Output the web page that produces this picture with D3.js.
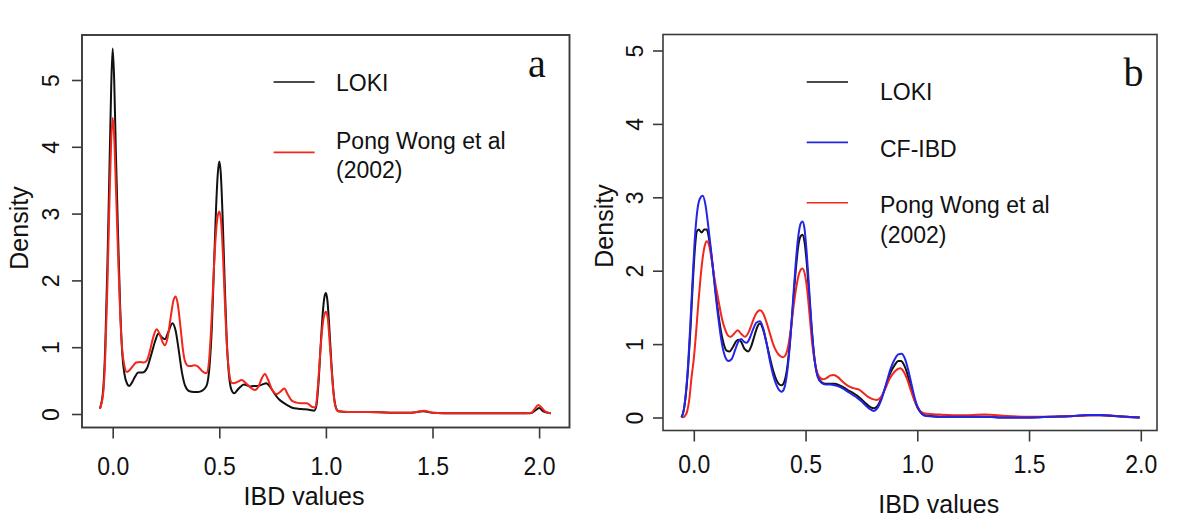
<!DOCTYPE html>
<html><head><meta charset="utf-8">
<script src="https://cdn.jsdelivr.net/npm/d3@7"></script>
<style>
body{margin:0;background:#fff}
svg{display:block}
text{font-family:"Liberation Sans",Arial,Helvetica,sans-serif;fill:#111}
</style>
</head><body>
<svg id="chart" width="1200" height="527"></svg>
<script>
// ---------------- DATA ----------------
const xTickValues = [0, 0.5, 1, 1.5, 2];
const yTickValues = [0, 1, 2, 3, 4, 5];
const panelLetters = ["a", "b"];
const xTitle = "IBD values";
const yTitle = "Density";
const legendA = ["LOKI", "Pong Wong et al|(2002)"];
const legendB = ["LOKI", "CF-IBD", "Pong Wong et al|(2002)"];

// Panel a : LOKI density  [IBD value, density]
const aLoki = [
[-0.060,0.08],[-0.045,0.35],[-0.035,1.0],[-0.025,2.2],[-0.015,3.7],[-0.007,4.9],[0.000,5.47],
[0.007,5.0],[0.015,3.9],[0.025,2.7],[0.035,1.6],[0.045,0.9],[0.055,0.6],[0.068,0.45],[0.078,0.42],
[0.09,0.47],[0.105,0.56],[0.12,0.62],[0.14,0.62],[0.16,0.68],[0.18,0.88],[0.20,1.10],[0.214,1.20],
[0.23,1.15],[0.245,1.12],[0.26,1.22],[0.28,1.36],[0.295,1.25],[0.31,0.95],[0.325,0.62],[0.34,0.42],
[0.36,0.34],[0.38,0.33],[0.40,0.33],[0.42,0.35],[0.44,0.42],[0.455,0.75],[0.465,1.3],[0.475,2.2],
[0.485,3.1],[0.493,3.6],[0.500,3.78],[0.507,3.6],[0.515,3.0],[0.525,2.0],[0.535,1.1],[0.545,0.6],
[0.557,0.36],[0.57,0.31],[0.585,0.36],[0.60,0.41],[0.615,0.44],[0.63,0.43],[0.645,0.41],[0.66,0.42],
[0.68,0.42],[0.70,0.44],[0.72,0.46],[0.74,0.40],[0.76,0.30],[0.78,0.22],[0.80,0.17],[0.82,0.13],
[0.845,0.09],[0.87,0.08],[0.90,0.07],[0.925,0.06],[0.945,0.05],[0.955,0.12],[0.965,0.45],[0.975,1.0],
[0.985,1.5],[0.993,1.75],[1.000,1.81],[1.007,1.7],[1.015,1.35],[1.025,0.8],[1.035,0.35],[1.045,0.12],
[1.058,0.04],[1.10,0.03],[1.20,0.03],[1.30,0.02],[1.40,0.02],[1.457,0.04],[1.50,0.02],[1.60,0.01],
[1.70,0.01],[1.80,0.01],[1.90,0.01],[1.96,0.01],[1.985,0.06],[2.0,0.09],[2.02,0.04],[2.055,0.01]
];
// Panel a : Pong Wong et al (2002)
const aPong = [
[-0.060,0.08],[-0.045,0.3],[-0.035,0.85],[-0.025,1.9],[-0.015,3.2],[-0.007,4.1],[0.000,4.43],
[0.007,4.15],[0.015,3.4],[0.025,2.4],[0.035,1.5],[0.045,0.95],[0.055,0.72],[0.066,0.63],[0.08,0.66],
[0.095,0.72],[0.11,0.77],[0.128,0.78],[0.145,0.77],[0.16,0.80],[0.175,0.95],[0.19,1.15],[0.206,1.27],
[0.22,1.20],[0.235,1.07],[0.245,1.03],[0.258,1.15],[0.272,1.45],[0.285,1.70],[0.295,1.76],[0.305,1.65],
[0.318,1.30],[0.33,0.95],[0.34,0.78],[0.355,0.72],[0.37,0.72],[0.386,0.73],[0.40,0.71],[0.42,0.64],
[0.44,0.61],[0.452,0.80],[0.462,1.3],[0.472,2.0],[0.482,2.6],[0.492,2.95],[0.500,3.03],[0.508,2.9],
[0.517,2.4],[0.527,1.6],[0.537,0.95],[0.547,0.6],[0.557,0.47],[0.567,0.46],[0.585,0.48],[0.605,0.51],
[0.625,0.46],[0.645,0.40],[0.667,0.36],[0.685,0.42],[0.700,0.54],[0.714,0.60],[0.728,0.52],[0.745,0.38],
[0.769,0.30],[0.785,0.33],[0.805,0.38],[0.82,0.30],[0.84,0.20],[0.863,0.17],[0.885,0.16],[0.91,0.16],
[0.94,0.10],[0.952,0.10],[0.962,0.4],[0.972,0.85],[0.982,1.25],[0.992,1.48],[1.000,1.53],[1.008,1.45],
[1.016,1.15],[1.026,0.7],[1.036,0.3],[1.046,0.1],[1.06,0.04],[1.10,0.03],[1.20,0.03],[1.30,0.02],
[1.40,0.02],[1.46,0.05],[1.50,0.02],[1.60,0.01],[1.70,0.01],[1.80,0.01],[1.90,0.01],[1.965,0.02],
[1.98,0.08],[1.996,0.135],[2.01,0.10],[2.025,0.05],[2.04,0.02],[2.055,0.01]
];
// Panel b : LOKI
const bLoki = [
[-0.055,0.0],[-0.045,0.1],[-0.035,0.33],[-0.025,0.7],[-0.015,1.2],[-0.005,1.8],[0.005,2.3],[0.013,2.53],
[0.022,2.56],[0.035,2.52],[0.047,2.56],[0.058,2.56],[0.07,2.4],[0.085,2.05],[0.10,1.65],[0.115,1.3],
[0.13,1.05],[0.147,0.91],[0.16,0.90],[0.175,0.96],[0.19,1.04],[0.20,1.06],[0.212,1.03],[0.228,0.93],
[0.244,0.90],[0.258,0.98],[0.272,1.12],[0.285,1.24],[0.296,1.28],[0.31,1.20],[0.325,1.02],[0.34,0.82],
[0.355,0.64],[0.37,0.51],[0.383,0.45],[0.393,0.44],[0.405,0.49],[0.418,0.68],[0.43,1.02],[0.443,1.5],
[0.456,2.0],[0.468,2.35],[0.478,2.47],[0.486,2.49],[0.495,2.4],[0.505,2.12],[0.515,1.72],[0.527,1.22],
[0.54,0.80],[0.555,0.56],[0.572,0.48],[0.59,0.46],[0.61,0.46],[0.63,0.46],[0.65,0.44],[0.67,0.41],
[0.69,0.37],[0.71,0.34],[0.73,0.30],[0.75,0.25],[0.77,0.19],[0.79,0.14],[0.805,0.125],[0.82,0.15],
[0.84,0.27],[0.86,0.44],[0.88,0.61],[0.90,0.72],[0.915,0.77],[0.927,0.77],[0.94,0.72],[0.955,0.60],
[0.97,0.42],[0.985,0.26],[1.00,0.14],[1.015,0.07],[1.03,0.03],[1.06,0.02],[1.10,0.01],[1.20,0.01],
[1.30,0.01],[1.40,0.0],[1.50,0.0],[1.60,0.01],[1.70,0.02],[1.76,0.03],[1.82,0.03],[1.88,0.02],
[1.94,0.01],[1.995,0.0]
];
// Panel b : CF-IBD
const bCf = [
[-0.055,0.0],[-0.045,0.1],[-0.035,0.35],[-0.025,0.75],[-0.015,1.3],[-0.005,1.9],[0.005,2.45],[0.015,2.8],
[0.027,2.98],[0.040,3.02],[0.052,2.9],[0.065,2.6],[0.08,2.2],[0.095,1.75],[0.11,1.35],[0.125,1.02],
[0.14,0.83],[0.155,0.77],[0.17,0.80],[0.185,0.92],[0.20,1.04],[0.212,1.07],[0.225,1.03],[0.237,1.02],
[0.25,1.08],[0.265,1.20],[0.28,1.29],[0.296,1.31],[0.31,1.22],[0.325,1.02],[0.34,0.78],[0.355,0.58],
[0.37,0.44],[0.383,0.37],[0.393,0.35],[0.405,0.40],[0.418,0.62],[0.43,1.0],[0.443,1.55],[0.456,2.1],
[0.468,2.48],[0.478,2.64],[0.486,2.67],[0.495,2.58],[0.505,2.25],[0.515,1.8],[0.527,1.25],[0.54,0.80],
[0.555,0.55],[0.572,0.47],[0.59,0.45],[0.61,0.45],[0.63,0.44],[0.65,0.42],[0.67,0.39],[0.69,0.35],
[0.71,0.31],[0.73,0.27],[0.75,0.22],[0.77,0.16],[0.79,0.11],[0.805,0.09],[0.82,0.12],[0.84,0.25],
[0.86,0.45],[0.88,0.66],[0.90,0.80],[0.915,0.86],[0.93,0.87],[0.945,0.80],[0.96,0.64],[0.975,0.44],
[0.99,0.25],[1.005,0.12],[1.02,0.05],[1.04,0.02],[1.10,0.01],[1.20,0.01],[1.30,0.01],[1.40,0.0],
[1.50,0.0],[1.60,0.01],[1.70,0.02],[1.76,0.035],[1.82,0.035],[1.88,0.02],[1.94,0.01],[1.995,0.0]
];
// Panel b : Pong Wong et al (2002)
const bPong = [
[-0.05,0.0],[-0.04,0.02],[-0.03,0.08],[-0.02,0.25],[-0.01,0.55],[0.0,0.8],[0.01,1.15],[0.02,1.55],
[0.03,1.9],[0.04,2.18],[0.05,2.35],[0.058,2.4],[0.068,2.35],[0.08,2.15],[0.095,1.85],[0.11,1.6],
[0.125,1.36],[0.14,1.20],[0.155,1.11],[0.165,1.10],[0.18,1.14],[0.196,1.19],[0.212,1.14],[0.229,1.10],
[0.245,1.16],[0.26,1.28],[0.278,1.41],[0.296,1.46],[0.31,1.42],[0.325,1.30],[0.34,1.15],[0.355,1.0],
[0.37,0.90],[0.385,0.84],[0.40,0.82],[0.412,0.86],[0.424,1.0],[0.436,1.25],[0.448,1.55],[0.46,1.8],
[0.472,1.97],[0.486,2.03],[0.497,1.95],[0.507,1.75],[0.518,1.4],[0.53,1.0],[0.545,0.70],[0.56,0.56],
[0.577,0.52],[0.595,0.54],[0.61,0.57],[0.625,0.58],[0.645,0.55],[0.665,0.49],[0.69,0.43],[0.714,0.40],
[0.74,0.38],[0.76,0.33],[0.78,0.28],[0.80,0.25],[0.818,0.24],[0.835,0.27],[0.855,0.38],[0.875,0.52],
[0.90,0.63],[0.923,0.67],[0.94,0.62],[0.955,0.52],[0.97,0.38],[0.985,0.25],[1.0,0.15],[1.02,0.07],
[1.04,0.05],[1.10,0.04],[1.20,0.03],[1.30,0.04],[1.40,0.02],[1.50,0.01],[1.60,0.01],[1.70,0.02],
[1.78,0.03],[1.85,0.03],[1.92,0.01],[1.995,0.0]
];

// ---------------- LAYOUT ----------------
const COL = {loki:"#111111", pong:"#f2261a", cf:"#2424e6"};
const TICK_SY = 1.12;
const svg = d3.select("#chart");

const panels = [
  { letter: panelLetters[0], box:[82,35,569.5,427.5], xr:[112.7,539.1], yr:[414,80],
    yLabX:23.5, xLabY:475, xTitlePos:[304,505], yTitlePos:[28,228],
    letterPos:[528,77], boxW:1.9,
    series:[{d:aLoki,c:COL.loki},{d:aPong,c:COL.pong}],
    legend:{x1:273.6,x2:314.6,tx:336, items:[
      {c:COL.loki, ly:82, lines:[[legendA[0],91]]},
      {c:COL.pong, ly:152.4, lines:[[legendA[1].split("|")[0],148.5],[legendA[1].split("|")[1],177.5]]}
    ]}},
  { letter: panelLetters[1], box:[663,34.5,1157,430.5], xr:[693.8,1140.8], yr:[417.5,50.5],
    yLabX:20.5, xLabY:473, xTitlePos:[938.7,513], yTitlePos:[613,226],
    letterPos:[1123.5,86.4], boxW:1.6,
    series:[{d:bLoki,c:COL.loki},{d:bPong,c:COL.pong},{d:bCf,c:COL.cf}],
    legend:{x1:806.7,x2:848,tx:880, items:[
      {c:COL.loki, ly:82, lines:[[legendB[0],100]]},
      {c:COL.cf, ly:142.4, lines:[[legendB[1],157]]},
      {c:COL.pong, ly:202.7, lines:[[legendB[2].split("|")[0],213],[legendB[2].split("|")[1],242.5]]}
    ]}}
];

panels.forEach(p => {
  const x = d3.scaleLinear().domain([0,2]).range(p.xr);
  const y = d3.scaleLinear().domain([0,5]).range(p.yr);
  const g = svg.append("g");
  const [bx0,by0,bx1,by1] = p.box;

  // curves
  const line = d3.line().x(d=>x(d[0])).y(d=>y(d[1])).curve(d3.curveMonotoneX);
  p.series.forEach(s => {
    g.append("path").datum(s.d).attr("d", line)
      .attr("fill","none").attr("stroke", s.c).attr("stroke-width",2)
      .attr("stroke-linejoin","round");
  });

  // box
  g.append("rect").attr("x",bx0).attr("y",by0).attr("width",bx1-bx0).attr("height",by1-by0)
    .attr("fill","none").attr("stroke","#3a3a3a").attr("stroke-width",p.boxW);

  // x axis
  const xa = g.append("g").attr("transform",`translate(0,${by1})`)
    .call(d3.axisBottom(x).tickValues(xTickValues).tickFormat(d3.format(".1f")).tickSize(11).tickSizeOuter(0));
  xa.select(".domain").remove();
  xa.selectAll(".tick line").attr("stroke","#3a3a3a").attr("stroke-width",1.6);
  xa.selectAll(".tick text").attr("y", null).attr("dy",null)
    .attr("transform",`translate(0,${p.xLabY-by1}) scale(1,${TICK_SY})`)
    .style("font-size","23px").attr("fill","#111");

  // y axis
  const ya = g.append("g").attr("transform",`translate(${bx0},0)`)
    .call(d3.axisLeft(y).tickValues(yTickValues).tickFormat(d3.format("d")).tickSize(10).tickSizeOuter(0));
  ya.select(".domain").remove();
  ya.selectAll(".tick line").attr("stroke","#3a3a3a").attr("stroke-width",1.6);
  ya.selectAll(".tick text").attr("x",null).attr("dy",null).attr("y",null)
    .attr("transform",`translate(${-p.yLabX},0) rotate(-90)`)
    .attr("text-anchor","middle").style("font-size","23px").attr("fill","#111");

  // titles
  g.append("text").attr("x",p.xTitlePos[0]).attr("y",p.xTitlePos[1])
    .attr("text-anchor","middle").style("font-size","25px").text(xTitle);
  g.append("text").attr("transform",`translate(${p.yTitlePos[0]},${p.yTitlePos[1]}) rotate(-90)`)
    .attr("text-anchor","middle").style("font-size","25px").text(yTitle);

  // legend
  p.legend.items.forEach(it => {
    g.append("line").attr("x1",p.legend.x1).attr("x2",p.legend.x2)
      .attr("y1",it.ly).attr("y2",it.ly).attr("stroke",it.c).attr("stroke-width",1.6);
    it.lines.forEach(([t,yy]) => {
      g.append("text").attr("x",p.legend.tx).attr("y",yy).style("font-size","23px").text(t);
    });
  });

  // panel letter
  g.append("text").attr("x",p.letterPos[0]).attr("y",p.letterPos[1])
    .style("font-family","'Liberation Serif','Times New Roman',serif").style("font-size","40px")
    .text(p.letter);
});
</script>
</body></html>
